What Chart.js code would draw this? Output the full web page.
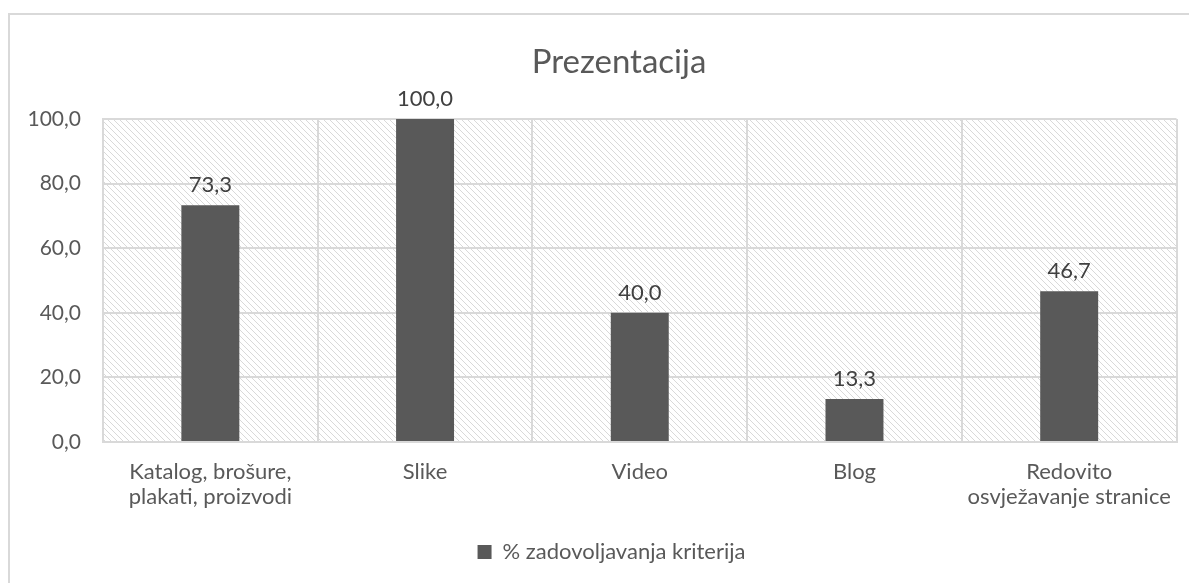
<!DOCTYPE html>
<html lang="hr">
<head>
    <meta charset="UTF-8">
    <title>Prezentacija</title>
    <script src="https://cdn.jsdelivr.net/npm/chart.js"></script>
    <style>
        body { margin: 0; background: #fff; overflow: hidden; }
        #frame {
            position: absolute; left: 8px; top: 13px;
            width: 1200px; height: 600px;
            border: 2px solid #d9d9d9;
        }
        #chart { position: absolute; left: 0; top: 0; }
    </style>
</head>
<body>
    <div id="frame"></div>
    <canvas id="chart" width="1189" height="583"></canvas>

    <script>
        // podaci
        const naslov = 'Prezentacija';
        const kategorije = [
            ['Katalog, brošure,', 'plakati, proizvodi'],
            'Slike',
            'Video',
            'Blog',
            ['Redovito', 'osvježavanje stranice']
        ];
        const vrijednosti = [73.3, 100.0, 40.0, 13.3, 46.7];
        const nazivSerije = '% zadovoljavanja kriterija';
        const yTicks = [0, 20, 40, 60, 80, 100];

        const fmt = v => v.toFixed(1).replace('.', ',');
        const FONT = 'Lato';

        // srafura u pozadini
        const pc = document.createElement('canvas');
        pc.width = 6; pc.height = 6;
        const p = pc.getContext('2d');
        p.strokeStyle = '#d9d9d9';
        p.lineWidth = 1;
        p.beginPath();
        p.moveTo(-1, -1); p.lineTo(7, 7);
        p.moveTo(-1, 5); p.lineTo(1, 7);
        p.moveTo(5, -1); p.lineTo(7, 1);
        p.stroke();

        const hatch = {
            id: 'hatch',
            afterLayout(chart) {
                // legenda je u originalu malo desno od sredine
                chart.legend.left += 23;
                chart.legend.right += 23;
            },
            beforeDraw(chart) {
                const { ctx, chartArea: a } = chart;
                ctx.save();
                ctx.fillStyle = ctx.createPattern(pc, 'repeat');
                ctx.fillRect(a.left, a.top, a.right - a.left, a.bottom - a.top);
                // naslov (malo lijevo od sredine, kao u originalu)
                ctx.font = '33px ' + FONT;
                ctx.fillStyle = '#595959';
                ctx.textAlign = 'center';
                ctx.textBaseline = 'alphabetic';
                ctx.fillText(naslov, 619, 73);
                ctx.restore();
            }
        };

        const labels = {
            id: 'labels',
            afterDatasetsDraw(chart) {
                const { ctx } = chart;
                const meta = chart.getDatasetMeta(0);
                ctx.save();
                ctx.font = '22px ' + FONT;
                ctx.fillStyle = '#404040';
                ctx.textAlign = 'center';
                ctx.textBaseline = 'bottom';
                meta.data.forEach((bar, i) => {
                    ctx.fillText(fmt(vrijednosti[i]), bar.x, bar.y - 9);
                });
                ctx.restore();
            }
        };

        new Chart(document.getElementById('chart'), {
            type: 'bar',
            data: {
                labels: kategorije,
                datasets: [{
                    label: nazivSerije,
                    data: vrijednosti,
                    backgroundColor: '#595959',
                    barPercentage: 0.27,
                    categoryPercentage: 1
                }]
            },
            options: {
                responsive: false,
                animation: false,
                layout: { padding: { left: 0, right: 12, top: 119, bottom: 10 } },
                scales: {
                    x: {
                        afterFit(axis) { axis.height = 89; },
                        grid: { color: '#d9d9d9', lineWidth: 2, drawTicks: false },
                        border: { color: '#d9d9d9', width: 2 },
                        ticks: {
                            color: '#595959', font: { family: FONT, size: 22, lineHeight: 1.15 },
                            padding: 17
                        }
                    },
                    y: {
                        min: 0, max: 100,
                        afterBuildTicks(axis) { axis.ticks = yTicks.map(v => ({ value: v })); },
                        afterFit(axis) { axis.width = 103; },
                        grid: { color: '#d9d9d9', lineWidth: 2, drawTicks: false },
                        border: { color: '#d9d9d9', width: 2 },
                        ticks: {
                            color: '#595959', font: { family: FONT, size: 21 }, padding: 22,
                            callback: v => fmt(v)
                        }
                    }
                },
                plugins: {
                    title: { display: false },
                    legend: {
                        position: 'bottom',
                        labels: {
                            color: '#595959',
                            font: { family: FONT, size: 22 },
                            boxWidth: 14, boxHeight: 14,
                            padding: 10
                        }
                    },
                    tooltip: { enabled: false }
                }
            },
            plugins: [hatch, labels]
        });
    </script>
</body>
</html>
